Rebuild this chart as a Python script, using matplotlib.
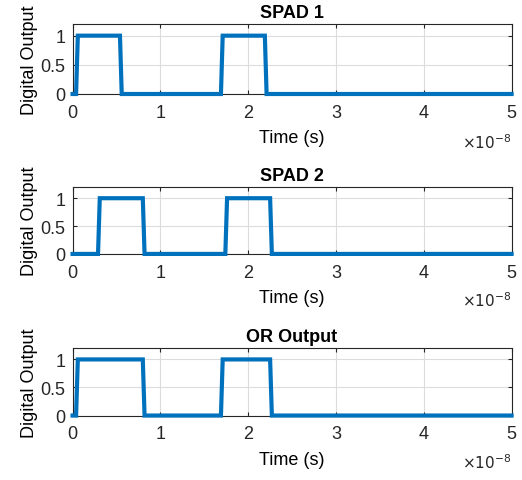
import numpy as np
import matplotlib
matplotlib.use("Agg")
import matplotlib.pyplot as plt
from matplotlib.ticker import FuncFormatter

# pulse edges in seconds
spad1_t = [0.0, 0.04e-8, 0.06e-8, 0.54e-8, 0.56e-8, 1.69e-8, 1.71e-8, 2.19e-8, 2.21e-8, 5.0e-8]
spad1_y = [0, 0, 1, 1, 0, 0, 1, 1, 0, 0]

spad2_t = [0.0, 0.29e-8, 0.31e-8, 0.80e-8, 0.82e-8, 1.74e-8, 1.76e-8, 2.25e-8, 2.27e-8, 5.0e-8]
spad2_y = [0, 0, 1, 1, 0, 0, 1, 1, 0, 0]

or_t = [0.0, 0.04e-8, 0.06e-8, 0.80e-8, 0.82e-8, 1.69e-8, 1.71e-8, 2.25e-8, 2.27e-8, 5.0e-8]
or_y = [0, 0, 1, 1, 0, 0, 1, 1, 0, 0]

titles = ["SPAD 1", "SPAD 2", "OR Output"]
xticks = [0, 1e-8, 2e-8, 3e-8, 4e-8, 5e-8]
yticks = [0, 0.5, 1]

plt.rcParams['font.family'] = ['Liberation Sans', 'DejaVu Sans']

fig = plt.figure(figsize=(5.22, 4.81), dpi=100)
positions = [
    [0.139, 0.8025, 0.841, 0.1455],
    [0.139, 0.470, 0.841, 0.139],
    [0.139, 0.134, 0.841, 0.140],
]
series = [(spad1_t, spad1_y), (spad2_t, spad2_y), (or_t, or_y)]
blue = "#0072BD"
edge = "#262626"

for pos, (t, y), title in zip(positions, series, titles):
    ax = fig.add_axes(pos)
    ax.plot(t, y, color=blue, lw=3, solid_joinstyle="miter", clip_on=False, zorder=3)
    ax.set_xlim(0, 5e-8)
    ax.set_ylim(0, 1.2)
    ax.set_xticks(xticks)
    ax.set_yticks(yticks)
    ax.xaxis.set_major_formatter(FuncFormatter(lambda v, p: f"{v / 1e-8:g}"))
    ax.yaxis.set_major_formatter(FuncFormatter(lambda v, p: f"{v:g}"))
    ax.grid(True, color="#dcdcdc", lw=0.8)
    ax.set_axisbelow(True)
    for s in ax.spines.values():
        s.set_color(edge)
        s.set_linewidth(0.8)
    ax.tick_params(direction="in", top=True, right=True, length=3,
                   labelsize=13, colors=edge, labelcolor="#262626")
    ax.tick_params(axis="x", pad=7)
    ax.tick_params(axis="y", pad=5)
    ax.set_title(title, fontsize=13, fontweight="bold", pad=5)
    ax.set_xlabel("Time (s)", fontsize=13, labelpad=6)
    ax.set_ylabel("Digital Output", fontsize=13, labelpad=2)
    ax.text(1.0, -0.68, r"$\times10^{-8}$", transform=ax.transAxes,
            ha="right", va="center", fontsize=11, color="#262626")

fig.savefig("out.png", dpi=100)
